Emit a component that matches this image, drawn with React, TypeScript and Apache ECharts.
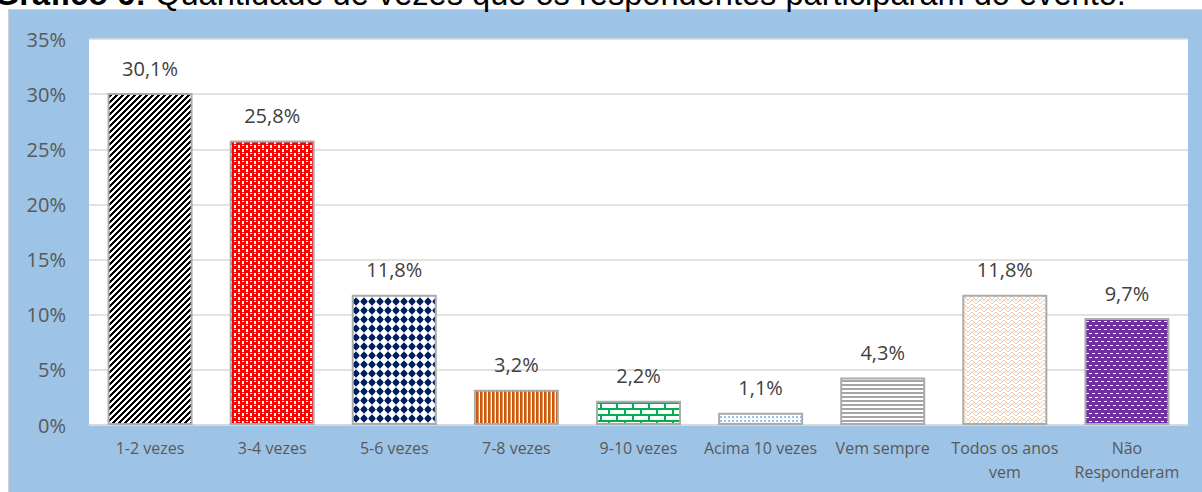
import React, { useEffect, useRef } from 'react';
import * as echarts from 'echarts';

const categories: string[] = [
  '1-2 vezes',
  '3-4 vezes',
  '5-6 vezes',
  '7-8 vezes',
  '9-10 vezes',
  'Acima 10 vezes',
  'Vem sempre',
  'Todos os anos\nvem',
  'Não\nResponderam',
];
const values: number[] = [30.1, 25.8, 11.8, 3.2, 2.2, 1.1, 4.3, 11.8, 9.7];
const yMin = 0;
const yMax = 35;
const yStep = 5;
const titleBold = 'Gráfico 6:';
const titleRest = ' Quantidade de vezes que os respondentes participaram do evento.';

type Draw = (ctx: CanvasRenderingContext2D, w: number, h: number) => void;
function tile(w: number, h: number, draw: Draw): HTMLCanvasElement {
  const c = document.createElement('canvas');
  c.width = w;
  c.height = h;
  const ctx = c.getContext('2d') as CanvasRenderingContext2D;
  ctx.fillStyle = '#ffffff';
  ctx.fillRect(0, 0, w, h);
  draw(ctx, w, h);
  return c;
}
function px(ctx: CanvasRenderingContext2D, w: number, h: number, x: number, y: number, ww: number, hh: number) {
  for (let i = 0; i < ww; i++) for (let j = 0; j < hh; j++) {
    ctx.fillRect(((x + i) % w + w) % w, ((y + j) % h + h) % h, 1, 1);
  }
}

function makePatterns() {
  const p1 = tile(6, 6, (ctx) => {
    ctx.fillStyle = '#000000';
    for (let x = 0; x < 6; x++) for (let y = 0; y < 6; y++) if ((x + y) % 6 < 3) ctx.fillRect(x, y, 1, 1);
  });
  const p2 = tile(8, 8, (ctx, w, h) => {
    ctx.fillStyle = '#FF0000';
    const blob = (bx: number, by: number) => {
      px(ctx, w, h, bx + 1, by, 4, 1);
      px(ctx, w, h, bx, by + 1, 6, 3);
      px(ctx, w, h, bx + 1, by + 4, 4, 1);
    };
    blob(0, 0);
    blob(4, 4);
    ctx.fillStyle = '#FFFFFF';
    px(ctx, w, h, 2, 1, 2, 1);
    px(ctx, w, h, 6, 5, 2, 1);
  });
  const p3 = tile(8, 9, (ctx) => {
    ctx.fillStyle = '#002060';
    ctx.beginPath();
    ctx.moveTo(4, 0.2);
    ctx.lineTo(7.8, 4.5);
    ctx.lineTo(4, 8.8);
    ctx.lineTo(0.2, 4.5);
    ctx.closePath();
    ctx.fill();
    ctx.beginPath();
    ctx.arc(4, 4.5, 2.8, 0, Math.PI * 2);
    ctx.fill();
  });
  const p4 = tile(4, 4, (ctx) => {
    ctx.fillStyle = '#C55A11';
    ctx.fillRect(0, 0, 2, 4);
    ctx.fillStyle = '#E9925A';
    ctx.fillRect(2, 0, 1, 4);
  });
  const p5 = tile(16, 12, (ctx) => {
    ctx.fillStyle = '#00B050';
    ctx.fillRect(0, 0, 16, 2);
    ctx.fillRect(0, 6, 16, 2);
    ctx.fillRect(0, 0, 2, 6);
    ctx.fillRect(8, 6, 2, 6);
  });
  const p6 = tile(4, 4, (ctx) => {
    ctx.fillStyle = '#9DC3E6';
    ctx.fillRect(0, 0, 2, 2);
    ctx.fillStyle = '#D6E6F5';
    ctx.fillRect(2, 2, 1, 1);
  });
  const p7 = tile(4, 4, (ctx) => {
    ctx.fillStyle = '#A5A5A5';
    ctx.fillRect(0, 0, 4, 2);
  });
  const p8 = tile(8, 8, (ctx, w, h) => {
    ctx.fillStyle = '#F8CBAD';
    for (let k = 0; k < 8; k++) {
      const y = k < 4 ? 3 - k : k - 4;
      px(ctx, w, h, k, y, 1, 1);
      px(ctx, w, h, k, y + 4, 1, 1);
      if (k % 2 === 0) px(ctx, w, h, k + 1, y + 2, 1, 1);
    }
  });
  const p9 = tile(6, 8, (ctx) => {
    ctx.fillStyle = '#7030A0';
    ctx.fillRect(0, 0, 6, 8);
    ctx.fillStyle = '#FFFFFF';
    ctx.fillRect(0, 1, 3, 1);
    ctx.fillRect(3, 5, 3, 1);
  });
  return [p1, p2, p3, p4, p5, p6, p7, p8, p9];
}

export default function App() {
  const ref = useRef<HTMLDivElement>(null);
  useEffect(() => {
    if (!ref.current) return;
    const chart = echarts.init(ref.current, undefined, { renderer: 'svg' });
    const pats = makePatterns();
    const font = '"Open Sans", "Liberation Sans", sans-serif';
    chart.setOption({
      animation: false,
      backgroundColor: '#9DC3E6',
      grid: {
        left: 89,
        top: 39,
        width: 1099,
        height: 386,
        show: true,
        backgroundColor: '#FFFFFF',
        borderWidth: 0,
      },
      xAxis: {
        type: 'category',
        data: categories,
        axisTick: { show: false },
        axisLine: { lineStyle: { color: '#D9D9D9', width: 1.5 } },
        axisLabel: {
          interval: 0,
          fontSize: 16,
          fontFamily: font,
          color: '#595959',
          lineHeight: 24,
          margin: 11,
        },
      },
      yAxis: {
        type: 'value',
        min: yMin,
        max: yMax,
        interval: yStep,
        axisLine: { show: false },
        axisTick: { show: false },
        axisLabel: {
          formatter: '{value}%',
          fontSize: 20,
          fontFamily: font,
          color: '#595959',
          margin: 23,
        },
        splitLine: { lineStyle: { color: '#D9D9D9', width: 1.5 } },
      },
      series: [
        {
          type: 'bar',
          barWidth: 85,
          data: values.map((v, i) => ({
            value: v,
            itemStyle: {
              color: { image: pats[i], repeat: 'repeat', imageWidth: pats[i].width, imageHeight: pats[i].height },
              borderColor: '#ABABAB',
              borderWidth: 2,
            },
          })),
          label: {
            show: true,
            position: 'top',
            distance: 15,
            fontSize: 20,
            fontFamily: font,
            color: '#404040',
            formatter: (p: any) => p.value.toFixed(1).replace('.', ',') + '%',
          },
        },
      ],
      graphic: [
        { type: 'rect', shape: { x: 0, y: 0, width: 1202, height: 9 }, style: { fill: '#FFFFFF' }, silent: true },
        { type: 'rect', shape: { x: 0, y: 0, width: 8, height: 492 }, style: { fill: '#FFFFFF' }, silent: true },
        { type: 'line', shape: { x1: 8.5, y1: 9, x2: 8.5, y2: 492 }, style: { stroke: '#D0D0D0', lineWidth: 1 }, silent: true },
        { type: 'line', shape: { x1: 8, y1: 9.5, x2: 1202, y2: 9.5 }, style: { stroke: '#D0D0D0', lineWidth: 1 }, silent: true },
        {
          type: 'text',
          x: -6,
          y: -7,
          silent: true,
          style: {
            text: '{b|' + titleBold + '}' + titleRest,
            font: '32.6px "Liberation Sans", Arial, sans-serif',
            fill: '#000000',
            verticalAlign: 'middle',
            rich: {
              b: { fontWeight: 'bold', fontSize: 32.6, fontFamily: '"Liberation Sans", Arial, sans-serif', fill: '#000000' },
            },
          },
        },
      ],
    });
    return () => chart.dispose();
  }, []);
  return (
    <div
      ref={ref}
      style={{ position: 'absolute', left: 0, top: 0, width: 1202, height: 492 }}
    />
  );
}
